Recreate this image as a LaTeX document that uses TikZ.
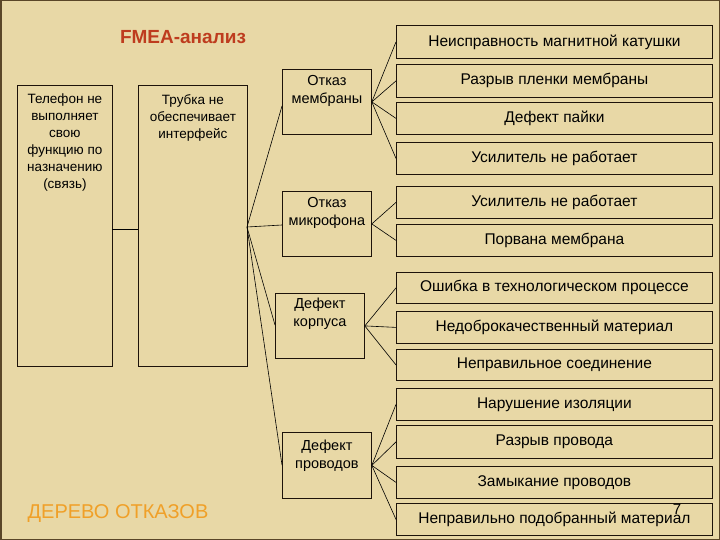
\documentclass[tikz,border=0pt]{standalone}
\usepackage{fontspec}
\setmainfont{Liberation Sans}
\begin{document}
\begin{tikzpicture}[x=1pt,y=-1pt,
  box/.style={draw=black!85!brown,line width=0.8pt,anchor=north west,inner sep=0pt},
  rbox/.style={box,minimum width=316pt,font=\fontsize{15.5}{17}\selectfont},
  mbox/.style={box,minimum width=89pt,minimum height=65pt},
  lbl/.style={anchor=north,align=center,font=\fontsize{14.5}{18}\selectfont,inner sep=0pt},
  llbl/.style={anchor=north,align=center,font=\fontsize{13.5}{17}\selectfont,inner sep=0pt},
  ln/.style={draw=black,line width=0.6pt}]
\fill[fill={rgb,255:red,232;green,216;blue,166}] (0,0) rectangle (720,540);
\draw[line width=1.5pt,draw={rgb,255:red,90;green,70;blue,40}] (0.75,0.75) rectangle (719.25,539.25);
\useasboundingbox (0,0) rectangle (720,540);
\node[text={rgb,255:red,190;green,60;blue,30},font=\bfseries\fontsize{19}{21}\selectfont] (title) at (183,37) {FMEA-анализ};
\node[text={rgb,255:red,240;green,160;blue,40},font=\fontsize{20}{22}\selectfont] (tree) at (118,514) {ДЕРЕВО ОТКАЗОВ};
% left boxes
\node[box,minimum width=95pt,minimum height=281pt] (tel) at (17,85) {};
\node[llbl] at ([yshift=-9pt]tel.north) {Телефон не\\выполняет\\свою\\функцию по\\назначению\\(связь)};
\node[box,minimum width=109pt,minimum height=281pt] (tr) at (138,85) {};
\node[llbl] at ([yshift=-9pt]tr.north) {Трубка не\\обеспечивает\\интерфейс};
\draw[ln] (112,229) -- (138,229);
\coordinate (src) at (247,227);
% middle boxes
\node[mbox] (m1) at (282,69) {};
\node[lbl] at ([yshift=-6pt]m1.north) {Отказ\\мембраны};
\node[mbox] (m2) at (282,191) {};
\node[lbl] at ([yshift=-6pt]m2.north) {Отказ\\микрофона};
\node[mbox] (m3) at (275,293) {};
\node[lbl] at ([yshift=-5pt]m3.north) {Дефект\\корпуса};
\node[mbox,minimum height=66pt] (m4) at (282,432) {};
\node[lbl] at ([yshift=-8pt]m4.north) {Дефект\\проводов};
\foreach \m/\y in {m1/106,m2/225,m3/325,m4/465}{
  \draw[ln] (src) -- (\m.west|-0,\y);
}
% right boxes
\foreach \n/\t/\b/\txt in {
 r1/25/58/Неисправность магнитной катушки,
 r2/64/97/Разрыв пленки мембраны,
 r3/102/134/Дефект пайки,
 r4/142/174/Усилитель не работает,
 r5/186/218/Усилитель не работает,
 r6/224/256/Порвана мембрана,
 r7/272/303/Ошибка в технологическом процессе,
 r8/311/343/Недоброкачественный материал,
 r9/349/380/Неправильное соединение,
 r10/388/420/Нарушение изоляции,
 r11/425/458/Разрыв провода,
 r12/466/498/Замыкание проводов,
 r13/503/535/Неправильно подобранный материал}{
  \pgfmathsetmacro\h{\b-\t}
  \node[rbox,minimum height=\h pt] (\n) at (396,\t) {\raisebox{2pt}{\txt}};
}
\foreach \r in {r1,r2,r3,r4}{\draw[ln] (m1.east) -- (\r.west);}
\foreach \r in {r5,r6}{\draw[ln] (m2.east) -- (\r.west);}
\foreach \r in {r7,r8,r9}{\draw[ln] (m3.east) -- (\r.west);}
\foreach \r in {r10,r11,r12,r13}{\draw[ln] (m4.east) -- (\r.west);}
\node[font=\fontsize{15}{17}\selectfont] (pg) at (677,509) {7};
\end{tikzpicture}
\end{document}
